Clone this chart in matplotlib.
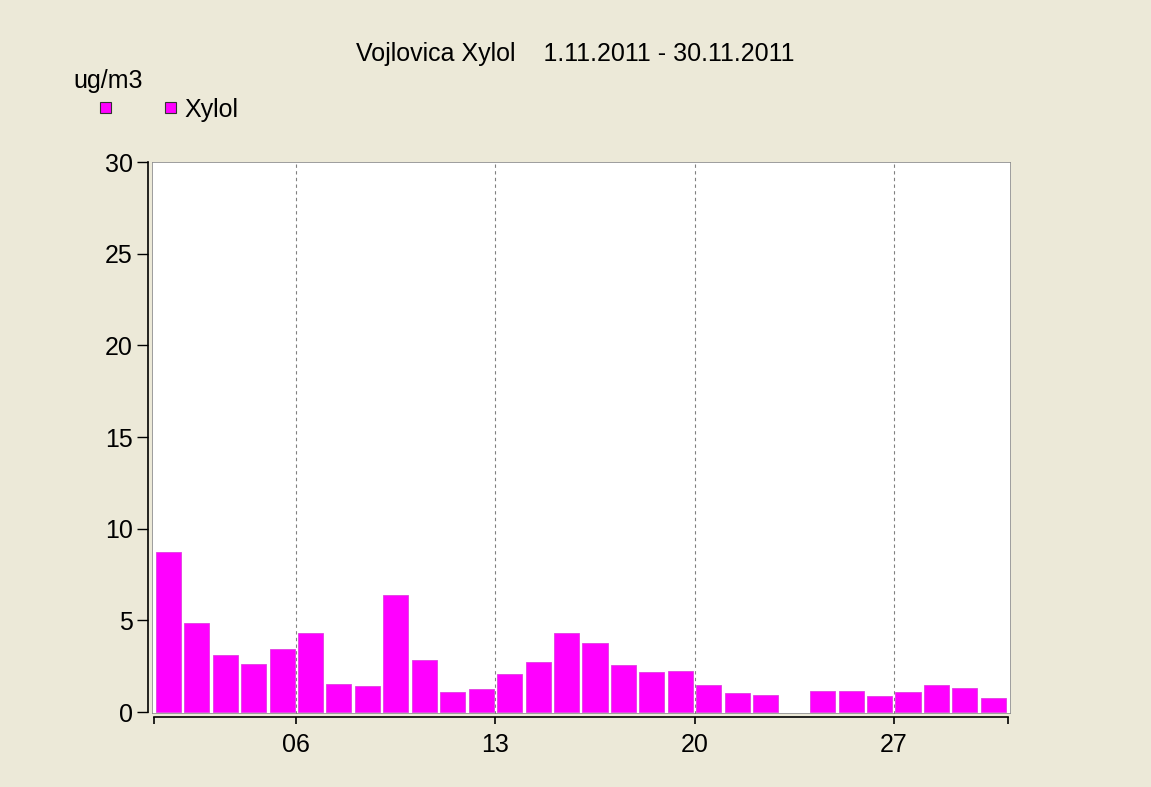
import matplotlib.pyplot as plt
from matplotlib.patches import Rectangle
import numpy as np

# daily means, Nov 2011 (day 23 has no data)
days = list(range(1, 31))
xylol = [8.74, 4.84, 3.09, 2.64, 3.47, 4.31, 1.56, 1.42, 6.37, 2.87,
         1.11, 1.25, 2.09, 2.71, 4.31, 3.78, 2.56, 2.18, 2.25, 1.49,
         1.02, 0.95, np.nan, 1.16, 1.16, 0.87, 1.09, 1.49, 1.33, 0.78]
tick_days = [1, 6, 13, 20, 27, 31]
tick_labels = ["", "06", "13", "20", "27", ""]
grid_days = [6, 13, 20, 27]
yticks = [0, 5, 10, 15, 20, 25, 30]

bg = "#ECE9D8"
bar_color = "#FF00FF"
fs = 18

plt.rcParams['font.family'] = ['Liberation Sans', 'DejaVu Sans']

fig = plt.figure(figsize=(11.51, 7.87), dpi=100)
fig.patch.set_facecolor(bg)
ax = fig.add_axes([152 / 1151, 1 - 714 / 787, (1011 - 152) / 1151, (714 - 162) / 787])
ax.set_facecolor("none")

# white plot area with grey frame
ax.add_patch(Rectangle((0, 0), 1, 1, transform=ax.transAxes, facecolor="white",
                       edgecolor="#8C8C8C", linewidth=1.2, zorder=0))

for d in grid_days:
    ax.axvline(d, color="#808080", linestyle=(0, (3, 3)), linewidth=0.8, zorder=1)

ax.bar(np.array(days) + 0.06, xylol, width=0.88, align="edge",
       color=bar_color, edgecolor="#E040E0", linewidth=0.6, zorder=2)

ax.set_xlim(0.93, 31.12)
ax.set_ylim(-0.1, 30)

for s in ["top", "right"]:
    ax.spines[s].set_visible(False)
ax.spines["left"].set_position(("outward", 3))
ax.spines["bottom"].set_position(("outward", 2))
ax.spines["left"].set_bounds(0, 30)
ax.spines["bottom"].set_bounds(1, 31)
ax.spines["left"].set_linewidth(1.2)
ax.spines["bottom"].set_linewidth(1.2)

ax.set_xticks(tick_days)
ax.set_xticklabels(tick_labels)
ax.set_yticks(yticks)
ax.set_yticklabels([str(v) for v in yticks])
ax.tick_params(axis="x", length=5, width=1.2, pad=7, labelsize=fs)
ax.tick_params(axis="y", length=8, width=1, pad=3, labelsize=fs)

fig.text(0.5, 1 - 61 / 787, "Vojlovica Xylol    1.11.2011 - 30.11.2011",
         ha="center", va="baseline", fontsize=fs)
fig.text(73 / 1151, 1 - 88 / 787, "ug/m3", ha="left", va="baseline", fontsize=fs)
for px in [100, 165]:
    fig.patches.append(Rectangle((px / 1151, 1 - 113 / 787), 11 / 1151, 11 / 787,
                                 transform=fig.transFigure, facecolor=bar_color,
                                 edgecolor="#333333", linewidth=0.8))
fig.text(184 / 1151, 1 - 117 / 787, "Xylol", ha="left", va="baseline", fontsize=fs)

plt.savefig("out.png", dpi=100, facecolor=bg)
